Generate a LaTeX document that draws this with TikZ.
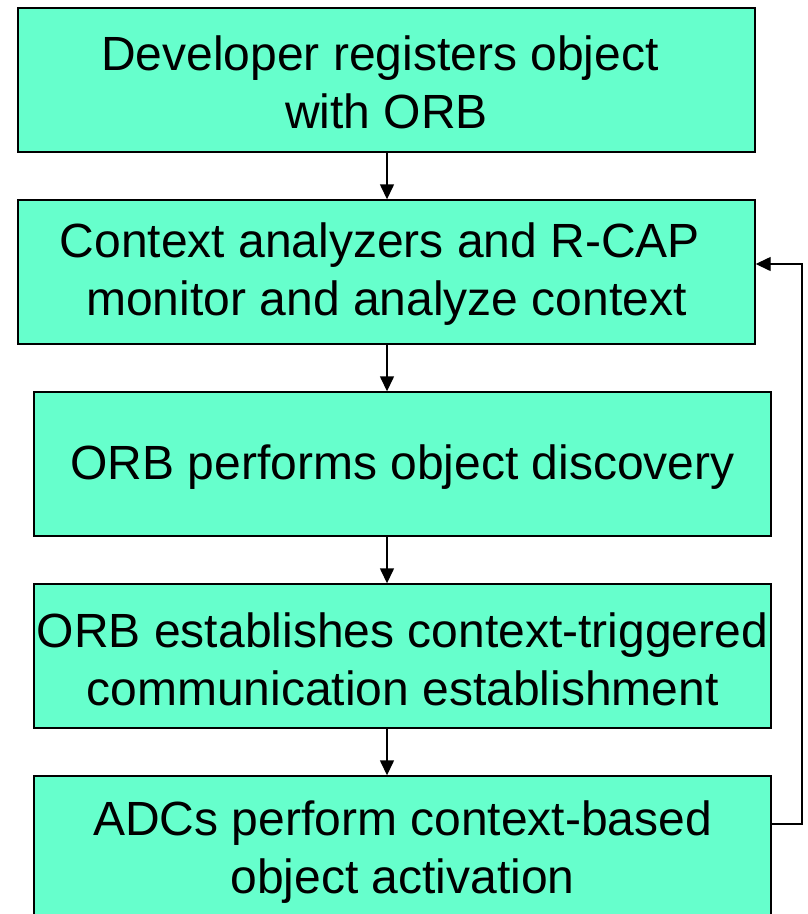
\documentclass[tikz,border=0pt]{standalone}
\usepackage{fontspec}
\setmainfont{Liberation Sans}
\usetikzlibrary{arrows.meta}
\definecolor{boxfill}{HTML}{66FFCC}
\tikzset{
  stepbox/.style={draw=black, line width=1.4pt, fill=boxfill, rectangle,
    minimum width=737pt, minimum height=144pt, inner sep=0pt},
  steptext/.style={inner sep=0pt, align=center,
    font=\fontsize{48pt}{58pt}\selectfont},
  flow/.style={draw=black, line width=1.4pt, -{Triangle[length=15pt,width=14pt]}}
}
\newcommand{\tsp}{\hspace*{0.278em}}
\begin{document}
\begin{tikzpicture}[x=1pt,y=-1pt]
  \useasboundingbox (0,0) rectangle (807,914);
  \clip (0,0) rectangle (807,914);
  % process steps
  \node[stepbox] (s1) at (386.5,80) {};
  \node[stepbox] (s2) at (386.5,272) {};
  \node[stepbox] (s3) at (402.5,464) {};
  \node[stepbox] (s4) at (402.5,656) {};
  \node[stepbox] (s5) at (402.5,848) {};
  % step captions
  \node[steptext] (t1) at ([yshift=-2pt]s1.center) {Developer registers object\tsp\\with ORB};
  \node[steptext] (t2) at ([yshift=-2pt]s2.center) {Context analyzers and R-CAP\tsp\\monitor and analyze context};
  \node[steptext] (t3) at ([yshift=-3pt]s3.center) {ORB performs object discovery};
  \node[steptext] (t4) at ([yshift=-3pt]s4.center) {ORB establishes context-triggered\\communication establishment};
  \node[steptext] (t5) at ([yshift=-4pt]s5.center) {ADCs perform context-based\\object activation};
  % forward flow
  \draw[flow] (s1.south -| 387,0) -- (s2.north -| 387,0);
  \draw[flow] (s2.south -| 387,0) -- (s3.north -| 387,0);
  \draw[flow] (s3.south -| 387,0) -- (s4.north -| 387,0);
  \draw[flow] (s4.south -| 387,0) -- (s5.north -| 387,0);
  % feedback loop back to context analysis
  \coordinate (back) at (802,0);
  \draw[flow] (s5.east |- 0,824) -| (back |- 0,824) |- (s2.east |- 0,264);
\end{tikzpicture}
\end{document}
